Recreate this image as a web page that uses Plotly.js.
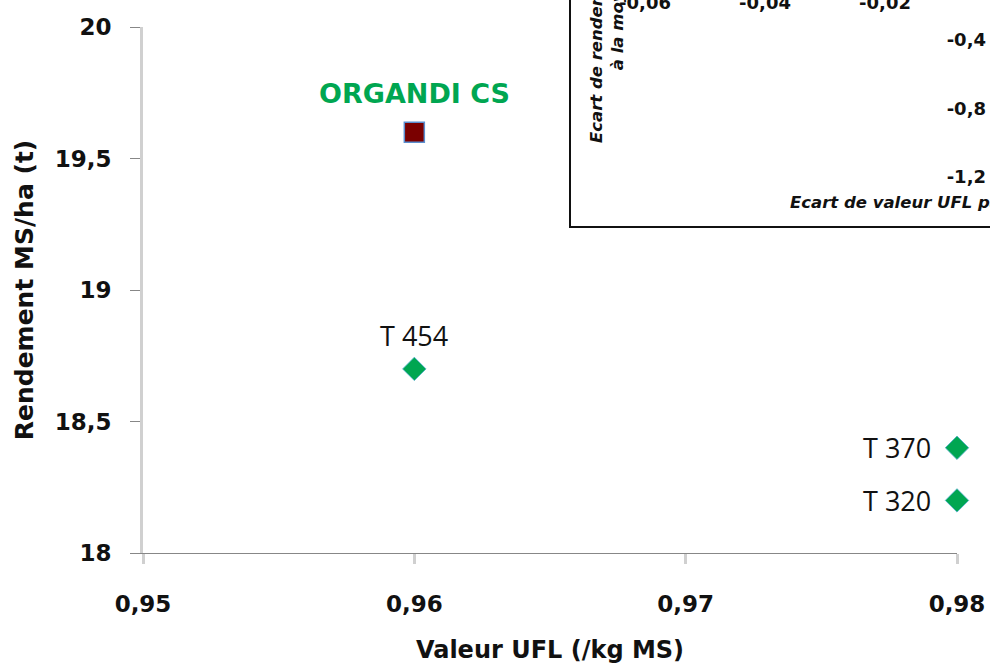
<!DOCTYPE html>
<html>
<head>
<meta charset="utf-8">
<script src="https://cdn.plot.ly/plotly-3.0.1.min.js"></script>
<style>html,body{margin:0;padding:0;background:#fff;}#chart{width:990px;height:664px;}</style>
</head>
<body>
<div id="chart"></div>
<script>
// ---- data ----
const refNames = ['ORGANDI CS'];
const refX = [0.96];
const refY = [19.6];

const temoinNames = ['T 454', 'T 370', 'T 320'];
const temoinX = [0.96, 0.98, 0.98];
const temoinY = [18.7, 18.4, 18.2];

const xTickVals = [0.95, 0.96, 0.97, 0.98];
const xTickText = ['0,95', '0,96', '0,97', '0,98'];
const yTickVals = [18, 18.5, 19, 19.5, 20];
const yTickText = ['18', '18,5', '19', '19,5', '20'];

// inset (écarts à la moyenne des témoins)
const insetX = [];
const insetY = [];
const insetXTickVals = [-0.06, -0.04, -0.02];
const insetXTickText = ['-0,06', '-0,04', '-0,02'];
const insetYTickVals = [-0.4, -0.8, -1.2];
const insetYTickText = ['-0,4', '-0,8', '-1,2'];

// ---- styles ----
const FONT = 'DejaVu Sans';
const GREEN = '#00a651';
const W = 990, H = 664;
const px = v => v / W;
const py = v => (H - v) / H;

const traces = [
  {
    type: 'scatter', mode: 'markers', name: 'ORGANDI CS',
    x: refX, y: refY, text: refNames,
    marker: {symbol: 'square', size: 20, color: '#7a0000', line: {color: '#5b8fd0', width: 1.5}},
    cliponaxis: false, hoverinfo: 'x+y+text'
  },
  {
    type: 'scatter', mode: 'markers', name: 'Témoins',
    x: temoinX, y: temoinY, text: temoinNames,
    marker: {symbol: 'diamond', size: 18, color: GREEN, line: {color: '#4bacc6', width: 0.8}},
    cliponaxis: false, hoverinfo: 'x+y+text'
  },
  {
    type: 'scatter', mode: 'markers', name: 'Ecarts',
    x: insetX, y: insetY, xaxis: 'x2', yaxis: 'y2',
    marker: {color: GREEN}
  }
];

const annotations = [];
refNames.forEach((n, i) => annotations.push({
  x: refX[i], y: refY[i], xref: 'x', yref: 'y', text: n, showarrow: false,
  xanchor: 'center', yanchor: 'middle', yshift: 39,
  font: {family: FONT, size: 27, weight: 'bold', color: GREEN}
}));
temoinNames.forEach((n, i) => {
  const atRight = temoinX[i] >= 0.98;
  annotations.push({
    x: temoinX[i], y: temoinY[i], xref: 'x', yref: 'y', text: n, showarrow: false,
    xanchor: atRight ? 'right' : 'center', yanchor: 'middle',
    xshift: atRight ? -24 : 0, yshift: atRight ? 0 : 33,
    font: {family: 'Open Sans', size: 27, color: '#111'}
  });
});
// inset titles
annotations.push({
  xref: 'paper', yref: 'paper', x: px(607), y: py(-52), xanchor: 'center', yanchor: 'middle',
  textangle: -90, showarrow: false, align: 'center',
  text: 'Ecart de rendement MS/ha (t) par rapport<br>à la moyenne des témoins',
  font: {family: FONT, size: 16.5, weight: 'bold', style: 'italic', color: '#111'}
});
annotations.push({
  xref: 'paper', yref: 'paper', x: px(788), y: py(202), xanchor: 'left', yanchor: 'middle',
  showarrow: false,
  text: 'Ecart de valeur UFL par rapport à la moyenne des témoins',
  font: {family: FONT, size: 16.5, weight: 'bold', style: 'italic', color: '#111'}
});

const layout = {
  width: W, height: H, autosize: false,
  margin: {l: 0, r: 0, t: 0, b: 0, pad: 0},
  paper_bgcolor: '#fff', plot_bgcolor: 'rgba(0,0,0,0)',
  showlegend: false,
  font: {family: FONT, color: '#111'},
  xaxis: {
    domain: [px(143), px(957)], range: [0.95, 0.98], anchor: 'y',
    tickvals: xTickVals, ticktext: xTickText,
    showgrid: false, zeroline: false,
    showline: true, linecolor: '#878787', linewidth: 1,
    ticks: 'outside', ticklen: 10, tickwidth: 3, tickcolor: '#d0d0d0',
    tickfont: {family: FONT, size: 23, weight: 'bold', color: '#111'},
    ticklabelstandoff: 20,
    title: {text: 'Valeur UFL (/kg MS)', standoff: 27, font: {family: FONT, size: 24, weight: 'bold', color: '#111'}},
    automargin: false
  },
  yaxis: {
    domain: [py(553), py(27)], range: [18, 20], anchor: 'x',
    tickvals: yTickVals, ticktext: yTickText,
    showgrid: false, zeroline: false,
    showline: true, linecolor: '#d0d0d0', linewidth: 3,
    ticks: 'outside', ticklen: 10, tickwidth: 1, tickcolor: '#878787',
    tickfont: {family: FONT, size: 23, weight: 'bold', color: '#111'},
    ticklabelstandoff: 14,
    title: {text: 'Rendement MS/ha (t)', standoff: 14, font: {family: FONT, size: 25, weight: 'bold', color: '#111'}},
    automargin: false
  },
  xaxis2: {
    domain: [px(645), 1], range: [-0.06, -0.0025], anchor: 'free', position: 1, side: 'bottom',
    tickvals: insetXTickVals, ticktext: insetXTickText,
    showgrid: false, zeroline: false, showline: false, ticks: '',
    tickfont: {family: FONT, size: 18, weight: 'bold', color: '#111'},
    ticklabelstandoff: -10, automargin: false
  },
  yaxis2: {
    domain: [py(177), 1], range: [-1.2, -0.166], anchor: 'free', position: 1, side: 'left',
    tickvals: insetYTickVals, ticktext: insetYTickText,
    showgrid: false, zeroline: false, showline: false, ticks: '',
    tickfont: {family: FONT, size: 18, weight: 'bold', color: '#111'},
    ticklabelstandoff: 4, automargin: false
  },
  shapes: [{
    type: 'rect', xref: 'paper', yref: 'paper',
    x0: px(570), x1: 1.05, y0: py(227), y1: 1.05,
    line: {color: '#111', width: 2}, fillcolor: 'rgba(0,0,0,0)', layer: 'above'
  }],
  annotations: annotations
};

Plotly.newPlot('chart', traces, layout, {staticPlot: true, displayModeBar: false});
</script>
</body>
</html>
